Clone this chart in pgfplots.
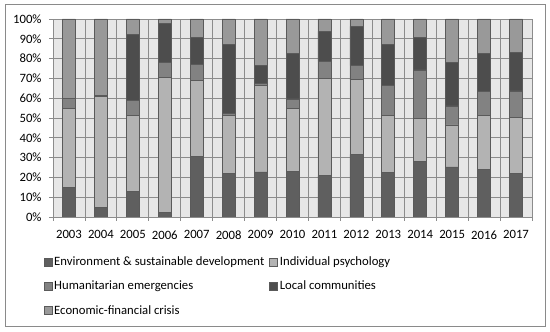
\documentclass[border=0pt]{standalone}
\usepackage{pgfplots}
\pgfplotsset{compat=1.18}
\usepackage{pgfplotstable}
\usepackage{fontspec}
\setmainfont{Carlito}
\definecolor{cEnv}{HTML}{5F5F5F}
\definecolor{cInd}{HTML}{B3B3B3}
\definecolor{cHum}{HTML}{828282}
\definecolor{cLoc}{HTML}{4D4D4D}
\definecolor{cEco}{HTML}{999999}
\definecolor{cEdge}{HTML}{5A5A5A}
\definecolor{cGrid}{HTML}{8C8C8C}
\definecolor{cBg}{HTML}{E7E7E7}
\definecolor{cFrame}{HTML}{8A8A8A}
\pgfplotstableread{
x env ind hum loc eco
0 15 40 5 0 40
1 5 56 0.5 0 38.5
2 13 38.5 7.3 33.2 8
3 2.2 68.2 7.8 19.4 2.4
4 30.4 38.5 8 14 9.1
5 22.1 29.1 1.2 34.9 12.7
6 22.8 43.6 1.2 8.8 23.6
7 23.1 31.8 4.7 23.2 17.2
8 20.8 49 8.9 15.1 6.2
9 31.6 37.7 7.2 19.8 3.7
10 22.3 29.2 14.9 20.9 12.7
11 28 21.8 24.5 16.4 9.3
12 25.3 21.2 9.6 21.9 22
13 24.2 27.1 12.1 19 17.6
14 21.8 28.5 13.4 19.4 16.9
}\datatable
\begin{document}
\fontsize{12.7bp}{15bp}\selectfont
\begin{tikzpicture}
\path (0,0) rectangle (550bp,332bp);
\draw[cFrame, line width=1bp] (5bp,5bp) rectangle (545bp,327bp);
\begin{axis}[
  at={(53bp,115bp)}, anchor=south west,
  scale only axis, width=479bp, height=198bp,
  ybar stacked, bar width=13bp,
  xmin=-0.5, xmax=14.5, ymin=0, ymax=100,
  enlargelimits=false,
  axis background/.style={fill=cBg},
  axis line style={cGrid, line width=0.8bp},
  xtick={-0.5,0.5,...,14.5},
  x tick label as interval,
  xticklabels={2003,2004,2005,2006,2007,2008,2009,2010,2011,2012,2013,2014,2015,2016,2017},
  ytick={0,10,...,100},
  yticklabels={0\%,10\%,20\%,30\%,40\%,50\%,60\%,70\%,80\%,90\%,100\%},
  xmajorgrids, ymajorgrids,
  grid style={cGrid, line width=0.8bp},
  tick align=outside, major tick length=4bp,
  tick style={cGrid, line width=0.8bp},
  xtick pos=bottom, ytick pos=left,
  tick label style={font=\fontsize{12.7bp}{15bp}\selectfont, text=black},
  yticklabel style={xshift=-3bp},
  xticklabel style={yshift=-5bp},
  every axis plot/.append style={draw=cEdge, line width=0.7bp},
  legend columns=2,
  legend cell align=left,
  legend style={at={(-0.02,-0.19)}, anchor=north west, draw=none, fill=none,
    font=\fontsize{12.7bp}{15bp}\selectfont, row sep=9.5bp,
    /tikz/every even column/.append style={column sep=3bp},
    inner sep=0pt},
  legend image code/.code={\draw[#1, line width=0.6bp] (0bp,-4bp) rectangle (8bp,4bp);},
]
\addplot[fill=cEnv] table[x=x,y=env]{\datatable};
\addplot[fill=cInd] table[x=x,y=ind]{\datatable};
\addplot[fill=cHum] table[x=x,y=hum]{\datatable};
\addplot[fill=cLoc] table[x=x,y=loc]{\datatable};
\addplot[fill=cEco] table[x=x,y=eco]{\datatable};
\legend{Environment \& sustainable development, Individual psychology, Humanitarian emergencies, Local communities, Economic-financial crisis}
\end{axis}
\end{tikzpicture}
\end{document}
